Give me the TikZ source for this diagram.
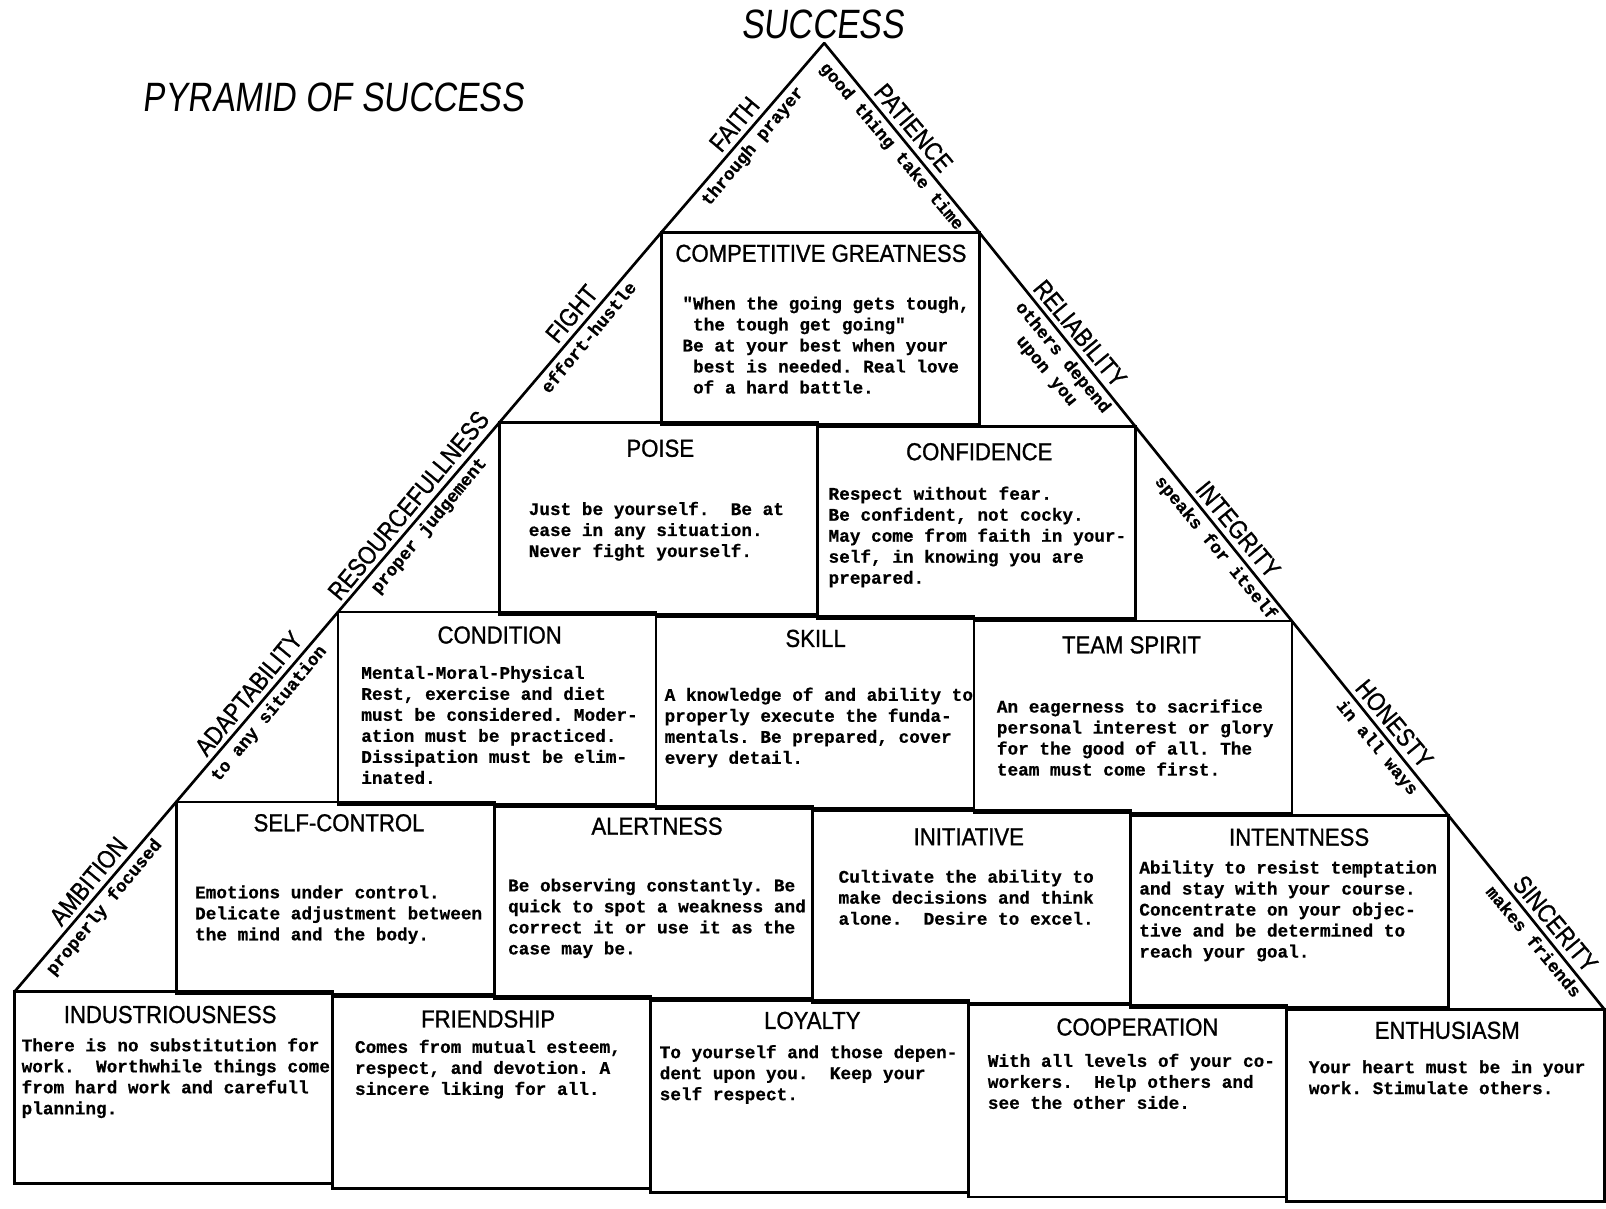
\documentclass[tikz,border=0pt]{standalone}
\usepackage{fontspec}
\newfontfamily\hdrfont[FakeStretch=0.9,FakeBold=1]{Liberation Sans}
\newfontfamily\lblfont[FakeStretch=0.85,FakeBold=1]{Liberation Sans}
\newfontfamily\ttlfont[FakeStretch=0.82,FakeSlant=0.12]{Liberation Sans}
\newfontfamily\twfont[FakeBold=0.6]{Liberation Mono}
\newcommand\bodyf{\twfont\bfseries\fontsize{17.3}{20.5}\selectfont\frenchspacing}
\newcommand\hdrf{\hdrfont\fontsize{24}{28}\selectfont}
\newcommand\lblf{\lblfont\fontsize{25}{29}\selectfont}
\newcommand\ttlf{\ttlfont\fontsize{40}{46}\selectfont}
\newcommand\lsp{\hphantom{x}}
\begin{document}
\begin{tikzpicture}[x=1pt,y=-1pt,
  pbox/.style={draw,line width=2.6pt,minimum width=310.5pt,minimum height=187.5pt,inner sep=0pt,outer sep=0pt},
  hd/.style={anchor=base,inner sep=0pt,font=\hdrf},
  bd/.style={anchor=north west,inner sep=0pt,align=left,font=\bodyf,execute at begin node=\strut},
  side/.style={line width=2.6pt,line cap=round},
  lbl/.style={sloped,above,inner sep=5pt,font=\lblf},
  sub/.style={sloped,below,inner sep=4pt,font=\bodyf,align=center},
  ttl/.style={inner sep=0pt,font=\ttlf}]
\fill[white] (0,0) rectangle (1568,1180);
\useasboundingbox (0,0) rectangle (1568,1180);

\node[ttl] (title) at (325.5,95) {PYRAMID OF SUCCESS};
\node[ttl] (success) at (803,24) {SUCCESS};

\begin{scope}[rotate around={-0.8:(797,600)}]
\coordinate (apex) at (797,42);

% Row 0
\begin{scope}[shift={(641.75,227)}]
\node[pbox] (cg) at (155.25,93.75) {};
\node[hd] (cgh) at (155,28.6) {COMPETITIVE GREATNESS};
\node[bd] (cgb) at (20,64.25) {"When the going gets tough,\\
\lsp the tough get going"\\
Be at your best when your\\
\lsp best is needed. Real love\\
\lsp of a hard battle.};
\end{scope}

% Row 1
\begin{scope}[shift={(486.5,414.5)}]
\node[pbox] (poise) at (155.25,93.75) {};
\node[hd] (poiseh) at (156,33.6) {POISE};
\node[bd] (poiseb) at (28,79.25) {Just be yourself.~ Be at\\
ease in any situation.\\
Never fight yourself.};
\end{scope}
\begin{scope}[shift={(797,414.5)}]
\node[pbox] (conf) at (155.25,93.75) {};
\node[hd] (confh) at (157,32.6) {CONFIDENCE};
\node[bd] (confb) at (10,60.25) {Respect without fear.\\
Be confident, not cocky.\\
May come from faith in your-\\
self, in knowing you are\\
prepared.};
\end{scope}

% Row 2
\begin{scope}[shift={(331.25,602)}]
\node[pbox] (cond) at (155.25,93.75) {};
\node[hd] (condh) at (157,30.6) {CONDITION};
\node[bd] (condb) at (22,54.25) {Mental-Moral-Physical\\
Rest, exercise and diet\\
must be considered. Moder-\\
ation must be practiced.\\
Dissipation must be elim-\\
inated.};
\end{scope}
\begin{scope}[shift={(641.75,602)}]
\node[pbox] (skill) at (155.25,93.75) {};
\node[hd] (skillh) at (155,29.6) {SKILL};
\node[bd] (skillb) at (8,71.25) {A knowledge of and ability to\\
properly execute the funda-\\
mentals. Be prepared, cover\\
every detail.};
\end{scope}
\begin{scope}[shift={(952.25,602)}]
\node[pbox] (team) at (155.25,93.75) {};
\node[hd] (teamh) at (153,31.6) {TEAM SPIRIT};
\node[bd] (teamb) at (22,78.25) {An eagerness to sacrifice\\
personal interest or glory\\
for the good of all. The\\
team must come first.};
\end{scope}

% Row 3
\begin{scope}[shift={(176,789.5)}]
\node[pbox] (self) at (155.25,93.75) {};
\node[hd] (selfh) at (158,28.6) {SELF-CONTROL};
\node[bd] (selfb) at (18,83.25) {Emotions under control.\\
Delicate adjustment between\\
the mind and the body.};
\end{scope}
\begin{scope}[shift={(486.5,789.5)}]
\node[pbox] (alert) at (155.25,93.75) {};
\node[hd] (alerth) at (158,27.6) {ALERTNESS};
\node[bd] (alertb) at (13,72.25) {Be observing constantly. Be\\
quick to spot a weakness and\\
correct it or use it as the\\
case may be.};
\end{scope}
\begin{scope}[shift={(797,789.5)}]
\node[pbox] (init) at (155.25,93.75) {};
\node[hd] (inith) at (152,33.6) {INITIATIVE};
\node[bd] (initb) at (25,59.25) {Cultivate the ability to\\
make decisions and think\\
alone.~ Desire to excel.};
\end{scope}
\begin{scope}[shift={(1107.5,789.5)}]
\node[pbox] (intent) at (155.25,93.75) {};
\node[hd] (intenth) at (164,29.6) {INTENTNESS};
\node[bd] (intentb) at (8,46.25) {Ability to resist temptation\\
and stay with your course.\\
Concentrate on your objec-\\
tive and be determined to\\
reach your goal.};
\end{scope}

% Row 4
\begin{scope}[shift={(20.75,977)}]
\node[pbox] (indu) at (155.25,93.75) {};
\node[hd] (induh) at (151,30.6) {INDUSTRIOUSNESS};
\node[bd] (indub) at (6,47.25) {There is no substitution for\\
work.~ Worthwhile things come\\
from hard work and carefull\\
planning.};
\end{scope}
\begin{scope}[shift={(331.25,977)}]
\node[pbox] (friend) at (155.25,93.75) {};
\node[hd] (friendh) at (151,30.6) {FRIENDSHIP};
\node[bd] (friendb) at (21,44.25) {Comes from mutual esteem,\\
respect, and devotion. A\\
sincere liking for all.};
\end{scope}
\begin{scope}[shift={(641.75,977)}]
\node[pbox] (loyal) at (155.25,93.75) {};
\node[hd] (loyalh) at (157,27.6) {LOYALTY};
\node[bd] (loyalb) at (8,45.25) {To yourself and those depen-\\
dent upon you.~ Keep your\\
self respect.};
\end{scope}
\begin{scope}[shift={(952.25,977)}]
\node[pbox] (coop) at (155.25,93.75) {};
\node[hd] (cooph) at (164,29.6) {COOPERATION};
\node[bd] (coopb) at (18,49.25) {With all levels of your co-\\
workers.~ Help others and\\
see the other side.};
\end{scope}
\begin{scope}[shift={(1262.75,977)}]
\node[pbox] (enth) at (155.25,93.75) {};
\node[hd] (enthh) at (156,28.6) {ENTHUSIASM};
\node[bd] (enthb) at (21,51.25) {Your heart must be in your\\
work. Stimulate others.};
\end{scope}

% Left side lines
\draw[side] (cg.north west) -- node[lbl,pos=0.52]{FAITH} node[sub,pos=0.5]{through prayer} (apex);
\draw[side] (poise.north west) -- node[lbl,pos=0.52]{FIGHT} node[sub,pos=0.49]{effort-hustle} (cg.north west);
\draw[side] (cond.north west) -- node[lbl,pos=0.51]{RESOURCEFULLNESS} node[sub,pos=0.5]{proper judgement} (poise.north west);
\draw[side] (self.north west) -- node[lbl,pos=0.52]{ADAPTABILITY} node[sub,pos=0.51]{to any situation} (cond.north west);
\draw[side] (indu.north west) -- node[lbl,pos=0.53]{AMBITION} node[sub,pos=0.49]{properly focused} (self.north west);

% Right side lines
\draw[side] (apex) -- node[lbl,pos=0.5]{PATIENCE} node[sub,pos=0.5]{good thing take time} (cg.north east);
\draw[side] (cg.north east) -- node[lbl,pos=0.57]{RELIABILITY} node[sub,pos=0.6]{others depend\\upon you} (conf.north east);
\draw[side] (conf.north east) -- node[lbl,pos=0.58]{INTEGRITY} node[sub,pos=0.58]{speaks for itself} (team.north east);
\draw[side] (team.north east) -- node[lbl,pos=0.58]{HONESTY} node[sub,pos=0.61]{in all ways} (intent.north east);
\draw[side] (intent.north east) -- node[lbl,pos=0.61]{SINCERITY} node[sub,pos=0.61]{makes friends} (enth.north east);
\end{scope}
\end{tikzpicture}
\end{document}
